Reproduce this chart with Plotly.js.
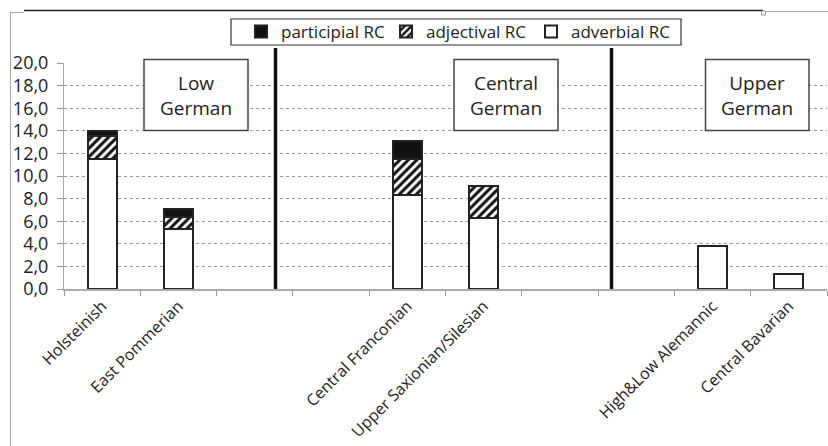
<!DOCTYPE html>
<html>
<head>
<meta charset="utf-8">
<script src="https://cdn.plot.ly/plotly-3.0.1.min.js"></script>
<style>
  html, body { margin: 0; padding: 0; background: #fff; }
  #chart { width: 828px; height: 446px; }
</style>
</head>
<body>
<div id="chart"></div>
<script>
// Categories (blank slots separate the three dialect groups)
const categories = ["Holsteinish", "East Pommerian", " ", "  ",
  "Central Franconian", "Upper Saxionian/Silesian", "   ", "    ",
  "High&Low Alemannic", "Central Bavarian"];

// Series values
const adverbialRC   = [11.5, 5.3, null, null, 8.3, 6.3, null, null, 3.8, 1.3];
const adjectivalRC  = [2.0, 1.1, null, null, 3.2, 2.8, null, null, 0, 0];
const participialRC = [0.5, 0.7, null, null, 1.6, 0, null, null, 0, 0];

const yTicks = [0, 2, 4, 6, 8, 10, 12, 14, 16, 18, 20];
const groupLabels = ["Low<br>German", "Central<br>German", "Upper<br>German"];

const FONT = "Open Sans, sans-serif";
const TXT = "#222";
const OUTLINE = "#222";

// pixel helpers for decorative layout items (plot area: x 64..827, y 63..289)
const L = 64, R = 827, T = 63, B = 289;
const px = v => (v - L) / (R - L);
const py = v => (B - v) / (B - T);

const traces = [
  {
    type: "bar", name: "adverbial RC", x: categories, y: adverbialRC,
    marker: { color: "#ffffff", line: { color: OUTLINE, width: 2 } }
  },
  {
    type: "bar", name: "adjectival RC", x: categories, y: adjectivalRC,
    marker: { color: "#ffffff", line: { color: OUTLINE, width: 2 },
      pattern: { shape: "/", fgcolor: "#111", bgcolor: "#ffffff", size: 6, solidity: 0.5 } }
  },
  {
    type: "bar", name: "participial RC", x: categories, y: participialRC,
    marker: { color: "#111111", line: { color: OUTLINE, width: 2 } }
  }
];

const shapes = [
  // legend frame
  { type: "rect", xref: "paper", yref: "paper", x0: px(231), x1: px(681), y0: py(19), y1: py(45),
    line: { color: "#333", width: 1.2 }, fillcolor: "rgba(0,0,0,0)", layer: "below" },
  // group dividers
  { type: "line", xref: "paper", yref: "paper", x0: px(275.5), x1: px(275.5), y0: 0, y1: py(48),
    line: { color: "#111", width: 3.5 } },
  { type: "line", xref: "paper", yref: "paper", x0: px(611.5), x1: px(611.5), y0: 0, y1: py(48),
    line: { color: "#111", width: 3.5 } },
  // group boxes
  { type: "rect", xref: "paper", yref: "paper", x0: px(144), x1: px(248), y0: py(59.5), y1: py(130.5),
    line: { color: "#444", width: 1.5 }, fillcolor: "#fff" },
  { type: "rect", xref: "paper", yref: "paper", x0: px(454), x1: px(558), y0: py(59.5), y1: py(130.5),
    line: { color: "#444", width: 1.5 }, fillcolor: "#fff" },
  { type: "rect", xref: "paper", yref: "paper", x0: px(705.5), x1: px(809), y0: py(59.5), y1: py(130.5),
    line: { color: "#444", width: 1.5 }, fillcolor: "#fff" },
  // chart frame remnants
  { type: "line", xref: "paper", yref: "paper", x0: px(24), x1: px(763), y0: py(10.5), y1: py(10.5),
    line: { color: "#222", width: 1.5 } },
  { type: "line", xref: "paper", yref: "paper", x0: px(766), x1: px(828), y0: py(11.5), y1: py(11.5),
    line: { color: "#aaa", width: 1 } },
  { type: "line", xref: "paper", yref: "paper", x0: px(10), x1: px(24), y0: py(12.5), y1: py(12.5),
    line: { color: "#aaa", width: 1 } },
  { type: "line", xref: "paper", yref: "paper", x0: px(10.5), x1: px(10.5), y0: py(12.5), y1: py(446),
    line: { color: "#aaa", width: 1 } },
  { type: "rect", xref: "paper", yref: "paper", x0: px(761.5), x1: px(765.5), y0: py(11), y1: py(15),
    line: { color: "#999", width: 1 }, fillcolor: "#fff" }
];

const boxCenters = [196, 506, 757];
const annotations = groupLabels.map((t, i) => ({
  xref: "paper", yref: "paper", x: px(boxCenters[i]), y: py(95), text: t,
  showarrow: false, xanchor: "center", yanchor: "middle",
  font: { family: FONT, size: 19, color: TXT }, align: "center"
}));

const layout = {
  width: 828, height: 446,
  margin: { l: L, r: 828 - R, t: T, b: 446 - B },
  paper_bgcolor: "#fff", plot_bgcolor: "#fff",
  barmode: "stack", bargap: 0.62,
  separators: ",.",
  font: { family: FONT, color: TXT },
  showlegend: true,
  legend: {
    orientation: "h", traceorder: "reversed",
    x: px(241), y: py(14), xanchor: "left", yanchor: "top",
    bgcolor: "rgba(0,0,0,0)", borderwidth: 0,
    font: { family: FONT, size: 17, color: TXT },
    itemwidth: 30,
    entrywidth: 100, entrywidthmode: "pixels"
  },
  xaxis: {
    type: "category", categoryorder: "array", categoryarray: categories,
    tickangle: -45, tickson: "boundaries", ticks: "outside", ticklen: 5,
    tickcolor: "#999", tickwidth: 1,
    showline: true, linecolor: "#aaa", linewidth: 1.5,
    showgrid: false, zeroline: false,
    tickfont: { family: FONT, size: 16, color: TXT },
    fixedrange: true
  },
  yaxis: {
    range: [0, 20], tickvals: yTicks, tickformat: ".1f",
    ticks: "outside", ticklen: 6, tickcolor: "#999", ticklabelstandoff: 5,
    showline: true, linecolor: "#aaa", linewidth: 1,
    showgrid: true, gridcolor: "#999", griddash: "3px,3px", gridwidth: 1,
    zeroline: false,
    tickfont: { family: FONT, size: 18, color: TXT },
    fixedrange: true
  },
  shapes: shapes,
  annotations: annotations
};

Plotly.newPlot("chart", traces, layout, { displayModeBar: false, staticPlot: true });
</script>
</body>
</html>
